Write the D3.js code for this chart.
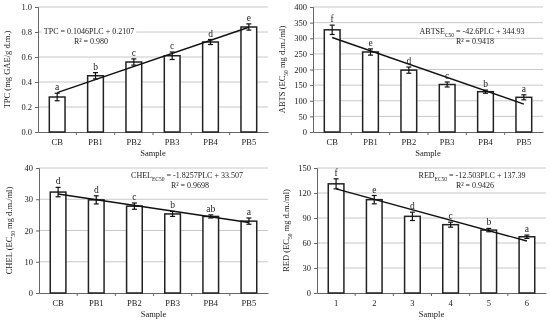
<!DOCTYPE html>
<html>
<head>
<meta charset="utf-8">
<script src="https://cdn.jsdelivr.net/npm/d3@7"></script>
<style>
  body { margin: 0; background: #fff; }
  svg { display: block; font-family: "Liberation Serif", "Times New Roman", serif; will-change: transform; }
</style>
</head>
<body>
<svg id="chart" width="550" height="322"></svg>
<script>
'use strict';

// categories
const samples = ['CB', 'PB1', 'PB2', 'PB3', 'PB4', 'PB5'];
const sampleNums = ['1', '2', '3', '4', '5', '6'];

// TPC
const tpcMean = [0.28, 0.45, 0.56, 0.61, 0.72, 0.84];
const tpcErr = [0.03, 0.025, 0.025, 0.03, 0.02, 0.025];
const tpcLetters = ['a', 'b', 'c', 'c', 'd', 'e'];
const tpcTicks = [0, 0.2, 0.4, 0.6, 0.8, 1.0];

// ABTS
const abtsMean = [327, 256, 198, 152, 129, 111];
const abtsErr = [15, 10, 10, 8, 5, 8];
const abtsLetters = ['f', 'e', 'd', 'c', 'b', 'a'];
const abtsTicks = [0, 50, 100, 150, 200, 250, 300, 350, 400];

// CHEL
const chelMean = [32.3, 29.8, 27.8, 25.3, 24.5, 23.0];
const chelErr = [1.5, 1.3, 1.0, 0.8, 0.5, 1.0];
const chelLetters = ['d', 'd', 'c', 'b', 'ab', 'a'];
const chelTicks = [0, 10, 20, 30, 40];

// RED
const redMean = [131, 112, 92, 82, 75.5, 67.5];
const redErr = [6, 5, 5, 3, 2, 2];
const redLetters = ['f', 'e', 'd', 'c', 'b', 'a'];
const redTicks = [0, 30, 60, 90, 120, 150];

const svg = d3.select('#chart');
const ink = '#222';

function panel(o) {
    const g = svg.append('g');
    const x = d3.scaleBand().domain(o.cats).range([o.left, o.right]);
    const y = d3.scaleLinear().domain([0, o.ticks[o.ticks.length - 1]]).range([o.bottom, o.top]);

    // gridlines
    g.selectAll('line.grid')
        .data(o.ticks.filter(t => t > 0))
        .enter().append('line')
        .attr('x1', o.left).attr('x2', o.right)
        .attr('y1', d => y(d)).attr('y2', d => y(d))
        .attr('stroke', '#c8c8c8').attr('stroke-width', 1);

    // y axis
    const ya = g.append('g')
        .attr('transform', `translate(${o.left},0)`)
        .call(d3.axisLeft(y).tickValues(o.ticks).tickSize(3).tickPadding(3).tickFormat(o.fmt));
    ya.select('.domain').attr('stroke', '#666');
    ya.selectAll('.tick line').attr('stroke', '#666');
    ya.selectAll('text').attr('font-size', 8.5).attr('font-family', 'Liberation Serif').attr('fill', ink);

    // x axis
    const xa = g.append('g')
        .attr('transform', `translate(0,${o.bottom})`)
        .call(d3.axisBottom(x).tickSize(0).tickPadding(7));
    xa.select('.domain').attr('stroke', '#666');
    xa.selectAll('text').attr('font-size', 8.5).attr('font-family', 'Liberation Serif').attr('fill', ink);
    // minor ticks between categories
    g.selectAll('line.xt')
        .data(o.cats.slice(1))
        .enter().append('line')
        .attr('x1', d => x(d)).attr('x2', d => x(d))
        .attr('y1', o.bottom).attr('y2', o.bottom + 3)
        .attr('stroke', '#666');

    const bw = x.bandwidth() * 0.41;
    const cx = d => x(d) + x.bandwidth() / 2;

    // bars
    g.selectAll('rect.bar')
        .data(o.cats)
        .enter().append('rect')
        .attr('x', d => cx(d) - bw / 2)
        .attr('width', bw)
        .attr('y', (d, i) => y(o.mean[i]))
        .attr('height', (d, i) => o.bottom - y(o.mean[i]))
        .attr('fill', '#fff').attr('stroke', '#222').attr('stroke-width', 1.5);

    // error bars
    const eb = g.selectAll('g.err').data(o.cats).enter().append('g');
    eb.append('line')
        .attr('x1', cx).attr('x2', cx)
        .attr('y1', (d, i) => y(o.mean[i] - o.err[i]))
        .attr('y2', (d, i) => y(o.mean[i] + o.err[i]))
        .attr('stroke', '#111').attr('stroke-width', 1.2);
    [-1, 1].forEach(s => {
        eb.append('line')
            .attr('x1', d => cx(d) - 2.5).attr('x2', d => cx(d) + 2.5)
            .attr('y1', (d, i) => y(o.mean[i] + s * o.err[i]))
            .attr('y2', (d, i) => y(o.mean[i] + s * o.err[i]))
            .attr('stroke', '#111').attr('stroke-width', 1.2);
    });

    // letters
    g.selectAll('text.let')
        .data(o.cats)
        .enter().append('text')
        .attr('x', cx)
        .attr('y', (d, i) => y(o.mean[i] + o.err[i]) - 3)
        .attr('text-anchor', 'middle')
        .attr('font-size', 9.5).attr('fill', ink)
        .text((d, i) => o.letters[i]);

    // trend line
    const c0 = o.cats[0], c5 = o.cats[o.cats.length - 1];
    g.append('line')
        .attr('x1', cx(c0)).attr('x2', cx(c5))
        .attr('y1', y(o.slope * 1 + o.inter))
        .attr('y2', y(o.slope * o.cats.length + o.inter))
        .attr('stroke', '#111').attr('stroke-width', 1.4);

    // equation, with a white box that breaks the gridline behind it
    const eq = g.append('text')
        .attr('x', o.eqX).attr('y', o.eqY)
        .attr('text-anchor', 'middle').attr('font-size', 8)
        .style('fill', ink);
    o.eq.forEach(p => {
        const t = eq.append('tspan').text(p.t).style('fill', ink);
        if (p.sub) t.attr('baseline-shift', 'sub').attr('font-size', 5.5);
    });
    const bb = eq.node().getBBox();
    g.insert('rect', () => eq.node())
        .attr('x', bb.x - 2).attr('y', bb.y).attr('width', bb.width + 4).attr('height', bb.height)
        .attr('fill', '#fff');
    g.append('text')
        .attr('x', o.eqX + o.r2dx).attr('y', o.eqY + 10)
        .attr('text-anchor', 'middle').attr('font-size', 8).attr('fill', ink)
        .text(o.r2);

    // axis titles
    g.append('text')
        .attr('x', (o.left + o.right) / 2).attr('y', o.bottom + 24)
        .attr('text-anchor', 'middle').attr('font-size', 8.5).attr('fill', ink)
        .text('Sample');
    const yt = g.append('text')
        .attr('transform', `translate(${o.ytX},${(o.top + o.bottom) / 2}) rotate(-90)`)
        .attr('text-anchor', 'middle').attr('font-size', 8.5).attr('fill', ink);
    o.ytitle.forEach(p => {
        const t = yt.append('tspan').text(p.t);
        if (p.sub) t.attr('baseline-shift', 'sub').attr('font-size', 5.5);
    });
}

panel({
    cats: samples, mean: tpcMean, err: tpcErr, letters: tpcLetters, ticks: tpcTicks,
    fmt: d3.format('.1f'), left: 38, right: 268, top: 7, bottom: 132,
    slope: 0.1046, inter: 0.2107,
    eq: [{t: 'TPC = 0.1046PLC + 0.2107'}], eqX: 89, eqY: 34, r2: 'R² = 0.980', r2dx: 2,
    ytX: 10, ytitle: [{t: 'TPC (mg GAE/g d.m.)'}]
});

panel({
    cats: samples, mean: abtsMean, err: abtsErr, letters: abtsLetters, ticks: abtsTicks,
    fmt: d3.format('d'), left: 313, right: 543, top: 7, bottom: 132,
    slope: -42.6, inter: 344.93,
    eq: [{t: 'ABTSE'}, {t: 'C50', sub: true}, {t: ' = -42.6PLC + 344.93'}], eqX: 472, eqY: 34, r2: 'R² = 0.9418', r2dx: 3,
    ytX: 285, ytitle: [{t: 'ABTS (EC'}, {t: '50', sub: true}, {t: ' mg d.m./ml)'}]
});

panel({
    cats: samples, mean: chelMean, err: chelErr, letters: chelLetters, ticks: chelTicks,
    fmt: d3.format('d'), left: 39, right: 268, top: 168, bottom: 293,
    slope: -1.8257, inter: 33.507,
    eq: [{t: 'CHEL'}, {t: 'EC50', sub: true}, {t: ' = -1.8257PLC + 33.507'}], eqX: 187, eqY: 178, r2: 'R² = 0.9698', r2dx: 3,
    ytX: 12, ytitle: [{t: 'CHEL (EC'}, {t: '50', sub: true}, {t: ' mg d.m./ml)'}]
});

panel({
    cats: sampleNums, mean: redMean, err: redErr, letters: redLetters, ticks: redTicks,
    fmt: d3.format('d'), left: 317, right: 546, top: 168, bottom: 293,
    slope: -12.503, inter: 137.39,
    eq: [{t: 'RED'}, {t: 'EC50', sub: true}, {t: ' = -12.503PLC + 137.39'}], eqX: 472, eqY: 178, r2: 'R² = 0.9426', r2dx: 3,
    ytX: 289, ytitle: [{t: 'RED (EC'}, {t: '50', sub: true}, {t: ' mg d.m./ml)'}]
});
</script>
</body>
</html>
